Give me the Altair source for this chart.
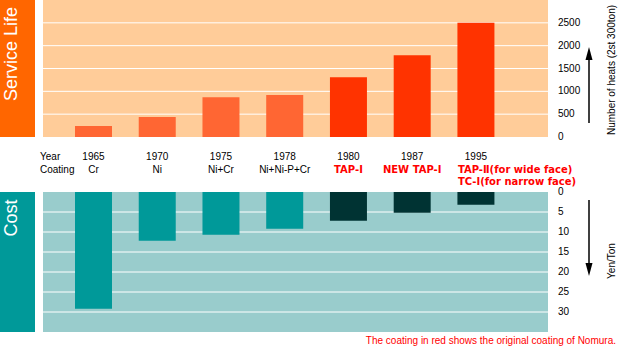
import altair as alt
import pandas as pd

# ---- data ----
years = ["1965", "1970", "1975", "1978", "1980", "1987", "1995"]
coatings = ["Cr", "Ni", "Ni+Cr", "Ni+Ni-P+Cr", "TAP-Ⅰ", "NEW TAP-Ⅰ", "TAP-Ⅱ(for wide face)"]
coatings_line2 = ["", "", "", "", "", "", "TC-Ⅰ(for narrow face)"]
heats = [240, 440, 870, 920, 1310, 1790, 2500]
cost = [29.2, 12.2, 10.7, 9.2, 7.2, 5.2, 3.2]
nomura_original = [False, False, False, False, True, True, True]
heat_ticks = [0, 500, 1000, 1500, 2000, 2500]
heat_grid = [500, 1000, 1500, 2000, 2500]
cost_ticks = [0, 5, 10, 15, 20, 25, 30]
cost_grid = [5, 10, 15, 20, 25, 30]

df = pd.DataFrame({
    "idx": list(range(len(years))),
    "year": years,
    "coating": coatings,
    "coating2": coatings_line2,
    "heats": heats,
    "cost": cost,
    "original": nomura_original,
})
one = pd.DataFrame({"a": [0]})

XMIN, XMAX = -0.7923, 7.1308
xs = alt.Scale(domain=[XMIN, XMAX])
ys_top = alt.Scale(domain=[0, 3000], range=[137, 0])
ys_bot = alt.Scale(domain=[0, 35], range=[192, 332])

FONT = "Liberation Sans"
RED = "#FF0000"

def xfield():
    return alt.X("idx:Q", scale=xs, axis=None)

# ---- top panel ----
top_bg = alt.Chart(one).mark_rect(color="#FFCC99").encode(
    x=alt.datum(XMIN, scale=xs, axis=None), x2=alt.datum(XMAX),
    y=alt.datum(0, scale=ys_top, axis=None), y2=alt.datum(3000))
top_grid = alt.Chart(pd.DataFrame({"v": heat_grid})).mark_rule(color="white", strokeWidth=1).encode(
    y=alt.Y("v:Q", scale=ys_top, axis=None))
top_bars = alt.Chart(df).mark_bar(size=37).encode(
    x=xfield(),
    y=alt.Y("heats:Q", scale=ys_top, axis=None),
    y2=alt.datum(0),
    color=alt.condition("datum.original", alt.value("#FF3300"), alt.value("#FF6633")))
top_labels = alt.Chart(pd.DataFrame({"v": heat_ticks})).mark_text(
    align="left", baseline="middle", font=FONT, fontSize=10, color="black").encode(
    x=alt.value(520), y=alt.Y("v:Q", scale=ys_top, axis=None), text="v:Q")
top_title = alt.Chart(one).mark_text(
    text="Number of heats (2st 300ton)", angle=270, align="center", baseline="middle",
    font=FONT, fontSize=10, color="black").encode(x=alt.value(574), y=alt.value(70))
top_band = alt.Chart(one).mark_rect(color="#FF6600").encode(
    x=alt.value(-38), x2=alt.value(-3),
    y=alt.datum(0, scale=ys_top, axis=None), y2=alt.datum(3000))
top_band_text = alt.Chart(one).mark_text(
    text="Service Life", color="white", font=FONT, fontSize=18, angle=270,
    align="center", baseline="middle").encode(x=alt.value(-26), y=alt.value(54))
top_arrow = alt.Chart(one).mark_rule(color="black", strokeWidth=1.5).encode(
    x=alt.value(551), y=alt.value(58), y2=alt.value(123))
top_head = alt.Chart(one).mark_point(
    shape="M0,-1L0.54,1L-0.54,1Z", filled=True, size=169, color="black", opacity=1).encode(
    x=alt.value(551), y=alt.value(53.5))

# middle texts
year_lbl = alt.Chart(one).mark_text(text="Year", align="left", baseline="alphabetic",
                                    font=FONT, fontSize=10, color="black").encode(
    x=alt.value(2), y=alt.value(160))
coat_lbl = alt.Chart(one).mark_text(text="Coating", align="left", baseline="alphabetic",
                                    font=FONT, fontSize=10, color="black").encode(
    x=alt.value(2), y=alt.value(173))
year_txt = alt.Chart(df).mark_text(align="center", baseline="alphabetic", font=FONT,
                                   fontSize=10, color="black").encode(
    x=xfield(), y=alt.value(160), text="year:N")
coat_black = alt.Chart(df).transform_filter("!datum.original").mark_text(
    align="center", baseline="alphabetic", font=FONT, fontSize=10, color="black").encode(
    x=xfield(), y=alt.value(173), text="coating:N")
coat_red = alt.Chart(df).transform_filter("datum.original && datum.coating2 == ''").mark_text(
    align="center", baseline="alphabetic", font="DejaVu Sans", fontWeight="bold",
    fontSize=10, color=RED).encode(
    x=xfield(), y=alt.value(173), text="coating:N")
coat_red_left = alt.Chart(df).transform_filter("datum.coating2 != ''").mark_text(
    align="left", baseline="alphabetic", font="DejaVu Sans", fontWeight="bold",
    fontSize=10, color=RED, dx=-18).encode(
    x=xfield(), y=alt.value(173), text="coating:N")
coat_red_left2 = alt.Chart(df).transform_filter("datum.coating2 != ''").mark_text(
    align="left", baseline="alphabetic", font="DejaVu Sans", fontWeight="bold",
    fontSize=10, color=RED, dx=-18).encode(
    x=xfield(), y=alt.value(185), text="coating2:N")
footer = alt.Chart(one).mark_text(
    text="The coating in red shows the original coating of Nomura.", align="right",
    baseline="alphabetic", font=FONT, fontSize=10, color=RED).encode(
    x=alt.value(578), y=alt.value(344))

top = alt.layer(top_bg, top_grid, top_bars, top_labels, top_title, top_band, top_band_text,
                top_arrow, top_head, year_lbl, coat_lbl, year_txt, coat_black, coat_red,
                coat_red_left, coat_red_left2, footer)

# ---- bottom panel ----
bot_bg = alt.Chart(one).mark_rect(color="#99CCCC").encode(
    x=alt.datum(XMIN, scale=xs, axis=None), x2=alt.datum(XMAX),
    y=alt.datum(0, scale=ys_bot, axis=None), y2=alt.datum(35))
bot_grid = alt.Chart(pd.DataFrame({"v": cost_grid})).mark_rule(color="white", strokeWidth=1).encode(
    y=alt.Y("v:Q", scale=ys_bot, axis=None))
bot_bars = alt.Chart(df).mark_bar(size=37).encode(
    x=xfield(),
    y=alt.Y("cost:Q", scale=ys_bot, axis=None),
    y2=alt.datum(0),
    color=alt.condition("datum.original", alt.value("#003333"), alt.value("#009999")))
bot_labels = alt.Chart(pd.DataFrame({"v": cost_ticks})).mark_text(
    align="left", baseline="middle", font=FONT, fontSize=10, color="black").encode(
    x=alt.value(520), y=alt.Y("v:Q", scale=ys_bot, axis=None), text="v:Q")
bot_title = alt.Chart(one).mark_text(
    text="Yen/Ton", angle=270, align="center", baseline="middle",
    font=FONT, fontSize=10, color="black").encode(x=alt.value(574), y=alt.value(261))
bot_band = alt.Chart(one).mark_rect(color="#009999").encode(
    x=alt.value(-38), x2=alt.value(-3),
    y=alt.datum(0, scale=ys_bot, axis=None), y2=alt.datum(35))
bot_band_text = alt.Chart(one).mark_text(
    text="Cost", color="white", font=FONT, fontSize=18, angle=270,
    align="center", baseline="middle").encode(x=alt.value(-26), y=alt.value(218))
bot_arrow = alt.Chart(one).mark_rule(color="black", strokeWidth=1.5).encode(
    x=alt.value(551), y=alt.value(200), y2=alt.value(266))
bot_head = alt.Chart(one).mark_point(
    shape="M0,1L0.54,-1L-0.54,-1Z", filled=True, size=169, color="black", opacity=1).encode(
    x=alt.value(551), y=alt.value(269.5))

bottom = alt.layer(bot_bg, bot_grid, bot_bars, bot_labels, bot_title, bot_band,
                   bot_band_text, bot_arrow, bot_head)

chart = alt.layer(top, bottom).resolve_scale(y="independent").properties(
    width=515, height=350,
    padding={"left": 38, "top": 0, "right": 67, "bottom": 0},
    autosize=alt.AutoSizeParams(type="none"),
    background="white",
).configure_view(stroke=None)

chart.save("out.html", embed_options={"renderer": "svg", "actions": False})
